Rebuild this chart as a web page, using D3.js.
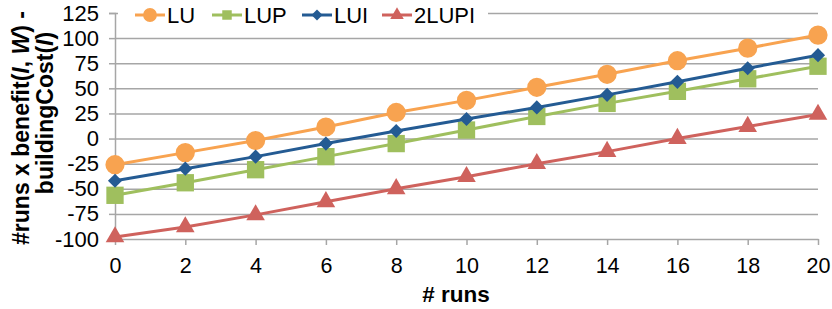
<!DOCTYPE html>
<html>
<head>
<meta charset="utf-8">
<script src="https://cdn.jsdelivr.net/npm/d3@7"></script>
<style>
  body { margin: 0; background: #fff; }
  svg { display: block; font-family: "Liberation Sans", Arial, Helvetica, sans-serif; }
</style>
</head>
<body>
<main></main>
<script>
const runs = [0, 2, 4, 6, 8, 10, 12, 14, 16, 18, 20];
const lu = [-26, -14, -2, 11.5, 26, 38, 51, 64, 77.5, 90, 103];
const lup = [-56.5, -44, -31, -18, -5, 8.5, 22, 35, 47, 59.5, 72];
const lui = [-42, -30, -18, -5, 7.5, 19.5, 31, 43.5, 56.5, 70, 83];
const lupi2 = [-98, -88, -76, -63, -50, -38, -25, -13, 0, 12, 24];
const yTicks = [-100, -75, -50, -25, 0, 25, 50, 75, 100, 125];

const series = [
  { name: 'LU', values: lu, color: '#F8A350', symbol: d3.symbolCircle, size: 290, legendSize: 150, rotate: 0 },
  { name: 'LUP', values: lup, color: '#9FBF5E', symbol: d3.symbolSquare, size: 300, legendSize: 90, rotate: 0 },
  { name: 'LUI', values: lui, color: '#245B93', symbol: d3.symbolSquare, size: 100, legendSize: 60, rotate: 45 },
  { name: '2LUPI', values: lupi2, color: '#CF625D', symbol: d3.symbolTriangle, size: 150, legendSize: 80, rotate: 0 },
];

const dimensions = {
  width: 832,
  height: 309,
  margin: { top: 13, right: 14, bottom: 70, left: 115 },
};
dimensions.boundedWidth =
  dimensions.width - (dimensions.margin.left + dimensions.margin.right);
dimensions.boundedHeight =
  dimensions.height - (dimensions.margin.top + dimensions.margin.bottom);

const xScale = d3.scaleLinear().domain([0, 20]).range([0, dimensions.boundedWidth]);
const yScale = d3.scaleLinear().domain([-100, 125]).range([dimensions.boundedHeight, 0]);

const svg = d3
  .select('main')
  .append('svg')
  .attr('width', dimensions.width)
  .attr('height', dimensions.height);

const bounds = svg
  .append('g')
  .attr('transform', `translate(${dimensions.margin.left} ${dimensions.margin.top})`);

const gridColor = '#A6A6A6';

// y axis with gridlines, plain hyphen for negatives
const yAxisGroup = bounds
  .append('g')
  .call(
    d3
      .axisLeft(yScale)
      .tickValues(yTicks)
      .tickSize(6)
      .tickPadding(10)
      .tickFormat(d => String(d))
  );
yAxisGroup.select('.domain').attr('stroke', gridColor).attr('stroke-width', 1.5);
yAxisGroup.selectAll('.tick line').attr('stroke', gridColor).attr('stroke-width', 1.5);
yAxisGroup
  .selectAll('g.tick')
  .filter(d => d !== -100)
  .append('path')
  .attr('d', `M 0 0 h ${dimensions.boundedWidth}`)
  .attr('stroke', gridColor)
  .attr('stroke-width', 1.5);
yAxisGroup
  .selectAll('text')
  .attr('fill', '#000')
  .attr('font-size', 22);

// x axis
const xAxisGroup = bounds
  .append('g')
  .attr('transform', `translate(0 ${dimensions.boundedHeight})`)
  .call(d3.axisBottom(xScale).tickValues(runs).tickSize(6).tickPadding(13).tickSizeOuter(0));
xAxisGroup.select('.domain').attr('stroke', gridColor).attr('stroke-width', 1.5);
xAxisGroup.selectAll('.tick line').attr('stroke', gridColor).attr('stroke-width', 1.5);
xAxisGroup.selectAll('text').attr('fill', '#000').attr('font-size', 21.5);

// axis titles
svg
  .append('text')
  .attr('x', 456)
  .attr('y', 302)
  .attr('text-anchor', 'middle')
  .attr('font-size', 22.5)
  .attr('font-weight', 'bold')
  .text('# runs');

const yTitle1 = svg
  .append('text')
  .attr('transform', 'translate(21 128) rotate(-90)')
  .attr('text-anchor', 'middle')
  .attr('dominant-baseline', 'central')
  .attr('font-size', 23)
  .attr('font-weight', 'bold');
yTitle1.append('tspan').text('#runs x benefit(');
yTitle1.append('tspan').attr('font-style', 'italic').text('I');
yTitle1.append('tspan').text(', ');
yTitle1.append('tspan').attr('font-style', 'italic').text('W');
yTitle1.append('tspan').text(') -');

const yTitle2 = svg
  .append('text')
  .attr('transform', 'translate(45 113) rotate(-90)')
  .attr('text-anchor', 'middle')
  .attr('dominant-baseline', 'central')
  .attr('font-size', 23)
  .attr('font-weight', 'bold');
yTitle2.append('tspan').text('buildingCost(');
yTitle2.append('tspan').attr('font-style', 'italic').text('I');
yTitle2.append('tspan').text(')');

// legend (white box covering the top gridline)
const legend = bounds.append('g').attr('transform', `translate(0 ${yScale(125)})`);
legend
  .append('rect')
  .attr('x', 3)
  .attr('y', -4)
  .attr('width', 370)
  .attr('height', 8)
  .attr('fill', '#fff');

const legendX = [20, 97, 187, 267];
series.forEach((s, i) => {
  const item = legend.append('g').attr('transform', `translate(${legendX[i]} 2)`);
  item
    .append('line')
    .attr('x1', 0)
    .attr('x2', 30)
    .attr('stroke', s.color)
    .attr('stroke-width', 3);
  item
    .append('path')
    .attr('d', d3.symbol(s.symbol, s.legendSize)())
    .attr('transform', `translate(15 0) rotate(${s.rotate})`)
    .attr('fill', s.color);
  item
    .append('text')
    .attr('x', 32)
    .attr('dy', '0.36em')
    .attr('font-size', 22)
    .text(s.name);
});

// series
const lineGenerator = d3
  .line()
  .x((d, i) => xScale(runs[i]))
  .y(d => yScale(d));

series.forEach(s => {
  const g = bounds.append('g');
  g.append('path')
    .attr('d', lineGenerator(s.values))
    .attr('fill', 'none')
    .attr('stroke', s.color)
    .attr('stroke-width', 3);
  g.selectAll('path.mark')
    .data(s.values)
    .join('path')
    .attr('class', 'mark')
    .attr('d', d3.symbol(s.symbol, s.size)())
    .attr('transform', (d, i) => `translate(${xScale(runs[i])} ${yScale(d)}) rotate(${s.rotate})`)
    .attr('fill', s.color);
});
</script>
</body>
</html>
